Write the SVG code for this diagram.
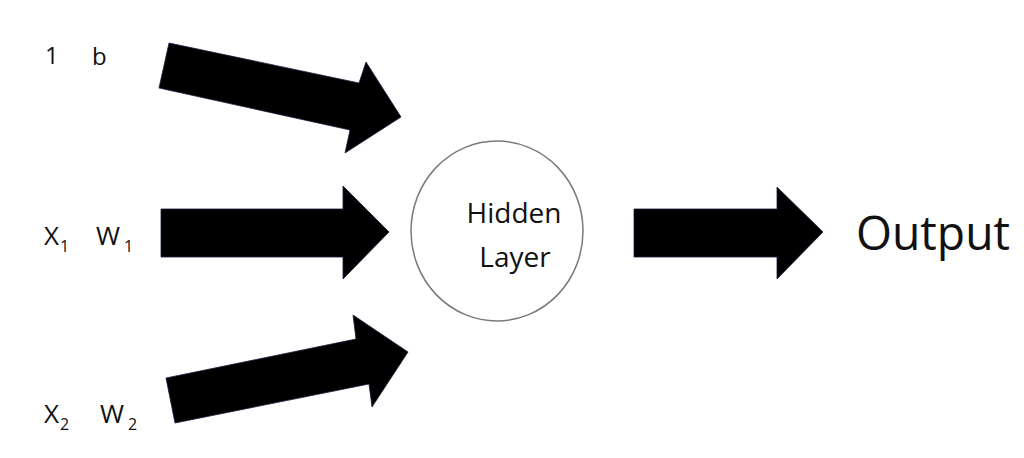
<svg xmlns="http://www.w3.org/2000/svg" width="1024" height="458" viewBox="0 0 1024 458">
<style>
.lbl{font-family:"Open Sans","Liberation Sans",sans-serif;fill:#111;font-size:24px}
.var{font-family:"Open Sans","Liberation Sans",sans-serif;fill:#111;font-size:26px}
.sub{font-family:"Open Sans","Liberation Sans",sans-serif;fill:#111;font-size:16px}
.arrow{fill:#000;stroke:#1a1a40;stroke-width:0.8;stroke-linejoin:miter}
</style>
<rect width="1024" height="458" fill="#fff"/>
<g id="input-bias">
<text class="lbl" x="45" y="64">1</text>
<text class="lbl" x="92" y="65">b</text>
</g>
<g id="input-x1">
<text class="var" x="44" y="245">X</text>
<text class="sub" x="60" y="252">1</text>
<text class="var" x="96" y="245">W</text>
<text class="sub" x="124" y="252">1</text>
</g>
<g id="input-x2">
<text class="var" x="44" y="423">X</text>
<text class="sub" x="60" y="430">2</text>
<text class="var" x="100" y="423">W</text>
<text class="sub" x="128" y="430">2</text>
</g>
<g id="hidden-layer">
<ellipse cx="497" cy="231" rx="86" ry="90" fill="#fff" stroke="#7a7a7a" stroke-width="1.5"/>
<text x="514" y="223" text-anchor="middle" font-family="'Open Sans','Liberation Sans',sans-serif" font-size="28" fill="#111">Hidden</text>
<text x="515" y="267" text-anchor="middle" font-family="'Open Sans','Liberation Sans',sans-serif" font-size="28" fill="#111">Layer</text>
</g>
<g id="output">
<text x="856" y="250" font-family="'Open Sans','Liberation Sans',sans-serif" font-size="48" fill="#111" textLength="154" lengthAdjust="spacingAndGlyphs">Output</text>
</g>
<g id="connectors">
<polygon class="arrow" points="169,43 359,83 366,62 401,117 345,153 350,130 159,88"/>
<polygon class="arrow" points="161,209 343,209 343,186 389,232 343,279 343,257 161,257"/>
<polygon class="arrow" points="166,378 356,339 353,315 408,352 372,407 369,384 175,423"/>
<polygon class="arrow" points="634,209 777,209 777,187 823,232 777,279 777,257 634,257"/>
</g>
</svg>
